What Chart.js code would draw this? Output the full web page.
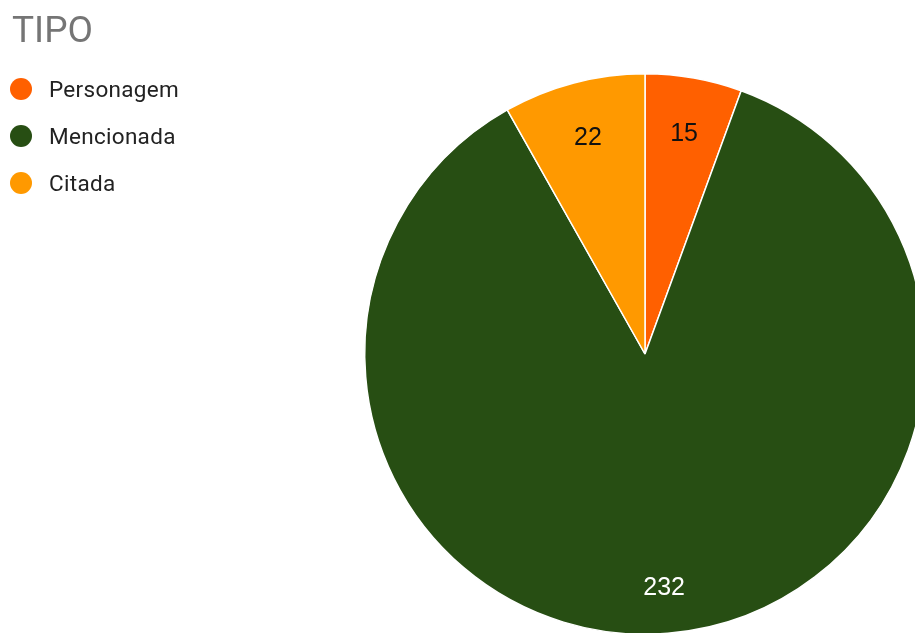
<!DOCTYPE html>
<html>
<head>
<meta charset="utf-8">
<title>TIPO</title>
<script src="https://cdn.jsdelivr.net/npm/chart.js@4"></script>
<style>
    html, body { margin: 0; padding: 0; background: #fff; overflow: hidden; }
    #wrap { position: absolute; left: 0; top: 0; width: 940px; height: 660px; }
</style>
</head>
<body>
<div id="wrap"><canvas id="tipoChart" width="940" height="660"></canvas></div>
<script>
const chartTitle = 'TIPO';
const categorias = ['Personagem', 'Mencionada', 'Citada'];
const valores = [15, 232, 22];
const cores = ['#ff6000', '#274e13', '#ff9900'];
const coresTexto = ['#111111', '#ffffff', '#111111'];

document.addEventListener('DOMContentLoaded', () => {
    const ctx = document.getElementById('tipoChart').getContext('2d');

    // rotulos dos valores dentro das fatias
    const valueLabels = {
        id: 'valueLabels',
        afterDatasetsDraw(chart) {
            const c = chart.ctx;
            const meta = chart.getDatasetMeta(0);
            c.save();
            c.font = '25px "Liberation Sans", Arial, sans-serif';
            c.textAlign = 'center';
            c.textBaseline = 'middle';
            meta.data.forEach((arc, i) => {
                const mid = (arc.startAngle + arc.endAngle) / 2;
                // fatias grandes ficam com o rotulo um pouco mais para fora
                const big = (arc.endAngle - arc.startAngle) > Math.PI;
                const r = arc.outerRadius * (big ? 0.835 : 0.8);
                c.fillStyle = coresTexto[i];
                c.fillText(String(valores[i]), arc.x + Math.cos(mid) * r, arc.y + Math.sin(mid) * r + 1);
            });
            c.restore();
        }
    };

    // titulo e legenda no canto superior esquerdo
    const tituloLegenda = {
        id: 'tituloLegenda',
        afterDraw(chart) {
            const c = chart.ctx;
            c.save();
            c.textAlign = 'left';
            c.textBaseline = 'alphabetic';
            c.fillStyle = '#757575';
            c.font = '37px Roboto, sans-serif';
            c.fillText(chartTitle, 12, 42);

            c.font = '22.5px Roboto, sans-serif';
            c.letterSpacing = '0.3px';
            categorias.forEach((cat, i) => {
                const y = 89 + i * 47;
                c.beginPath();
                c.arc(21, y, 11, 0, Math.PI * 2);
                c.fillStyle = cores[i];
                c.fill();
                c.fillStyle = '#222222';
                c.fillText(cat, 49, y + 8);
            });
            c.restore();
        }
    };

    new Chart(ctx, {
        type: 'pie',
        data: {
            labels: categorias,
            datasets: [{
                data: valores,
                backgroundColor: cores,
                borderColor: '#ffffff',
                borderWidth: 1.5
            }]
        },
        options: {
            responsive: false,
            animation: false,
            devicePixelRatio: 1,
            layout: {
                padding: { left: 364, top: 73, right: 14, bottom: 25 }
            },
            plugins: {
                legend: { display: false },
                title: { display: false },
                tooltip: { enabled: false }
            }
        },
        plugins: [valueLabels, tituloLegenda]
    });
});
</script>
</body>
</html>
